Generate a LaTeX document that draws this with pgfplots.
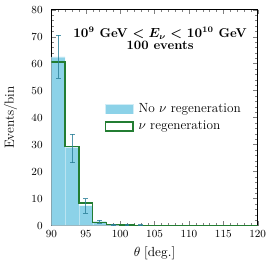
\documentclass[border=0pt]{standalone}
\usepackage{pgfplots}
\pgfplotsset{compat=1.18}
\definecolor{skyb}{RGB}{140,210,232}
\definecolor{errc}{RGB}{40,125,150}
\definecolor{grn}{RGB}{35,125,50}
\begin{document}
\begin{tikzpicture}
\begin{axis}[
  name=ax,
  scale only axis,
  width=171pt, height=179pt,
  xmin=90, xmax=120, ymin=0, ymax=80,
  xtick={90,95,...,120}, ytick={0,10,...,80},
  minor x tick num=4, minor y tick num=4,
  tick align=inside, xtick pos=both, ytick pos=both,
  major tick length=4pt, minor tick length=2pt,
  tick label style={font=\fontsize{9.5}{11}\selectfont},
  xticklabel style={yshift=-0.5pt},
  yticklabel style={xshift=-3.8pt},
  label style={font=\fontsize{11}{13}\selectfont},
  xlabel={$\theta\;[\mathrm{deg.}]$},
  ylabel={Events/bin},
  xlabel style={yshift=-1pt},
  ylabel style={yshift=4.9pt},
  legend style={draw=none, fill=none, at={(0.24,0.588)}, anchor=north west, row sep=1.5pt,
    font=\fontsize{11}{13}\selectfont, nodes={inner xsep=4pt}},
  legend cell align=left,
  legend image code/.code={\draw[#1] (0cm,-0.13cm) rectangle (0.8cm,0.13cm);},
]
\addplot[ybar interval, fill=skyb, draw=white, draw opacity=0.4, line width=0.3pt,
  legend image code/.code={\fill[skyb] (0cm,-0.13cm) rectangle (0.8cm,0.13cm);}] coordinates {
(90,62.5)(92,29)(94,7.4)(96,1.5)(98,0.3)(100,0.3)(102,0.15)(104,0.05)(106,0)(108,0)(110,0)(112,0)(114,0)(116,0)(118,0)(120,0)};
\addlegendentry{No $\nu$ regeneration}
\addplot[const plot mark left, grn, line width=1.2pt, fill=none] coordinates {
(90,60.6)(92,29.3)(94,8.4)(96,1.2)(98,0.3)(100,0.2)(102,0.1)(104,0)(106,0)(108,0)(110,0)(112,0)(114,0)(116,0)(118,0)(120,0)};
\addlegendentry{$\nu$ regeneration}
\addplot[draw=none, mark=none, forget plot,
  error bars/.cd, y dir=both, y explicit,
  error bar style={errc, line width=0.8pt, opacity=0.8},
  error mark options={rotate=90, mark size=2pt, errc, line width=0.8pt}]
  coordinates {
  (91,62.5) +- (0,8)
  (93,28.5) +- (0,5.3)
  (95,7.3) +- (0,2.7)
  (97,1.4) +- (0,0.5)
  (99,0.3) +- (0,0.2)
  (101,0.3) +- (0,0.2)
  (103,0.1) +- (0,0.1)
  };
\node[anchor=north, font=\fontsize{10.6}{12}\selectfont\bfseries\boldmath, align=center] at (axis cs:105.8,75.2)
  {$10^9$ GeV $< E_\nu <$ $10^{10}$ GeV\\[-2pt] 100 events};
\end{axis}
\path ([xshift=-33.4pt, yshift=-31.8pt]ax.south west) rectangle ([xshift=12.7pt, yshift=8pt]ax.north east);
\end{tikzpicture}
\end{document}
